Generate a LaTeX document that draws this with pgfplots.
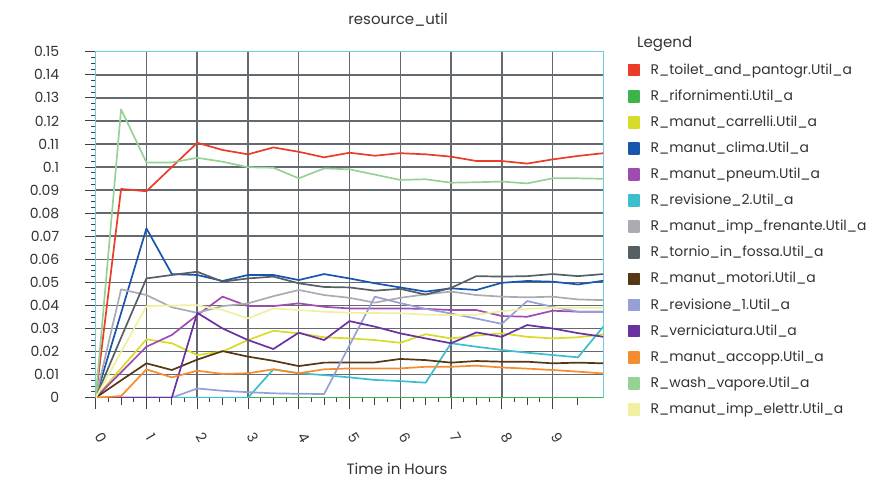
\documentclass[border=0pt]{standalone}
\usepackage{fontspec}
\setmainfont{Poppins}
\usepackage{pgfplots}
\usepackage{pgfplotstable}
\pgfplotsset{compat=1.18}
\definecolor{cred}{RGB}{235,60,40}
\definecolor{crif}{RGB}{60,180,75}
\definecolor{ccarr}{RGB}{215,220,40}
\definecolor{cclima}{RGB}{25,85,175}
\definecolor{cpneum}{RGB}{160,75,175}
\definecolor{crevb}{RGB}{60,190,205}
\definecolor{cfren}{RGB}{170,172,178}
\definecolor{ctornio}{RGB}{85,95,100}
\definecolor{cmotori}{RGB}{85,55,20}
\definecolor{creva}{RGB}{150,160,215}
\definecolor{cvern}{RGB}{105,50,160}
\definecolor{caccopp}{RGB}{245,140,45}
\definecolor{cwash}{RGB}{150,210,150}
\definecolor{celettr}{RGB}{240,240,160}
\definecolor{gridc}{RGB}{100,106,112}
\definecolor{axisc}{RGB}{110,205,220}
\pgfplotstableread{
x red rif carr clima pneum revb fren tornio motori reva vern accopp wash elettr
0 0 0 0 0 0 0 0 0 0 0 0 0 0 0
0.5 0.0905 0 0.0127 0.0367 0.0110 0 0.0470 0.0260 0.0075 0 0 0.0007 0.1250 0.0198
1 0.0895 0 0.0253 0.0734 0.0221 0 0.0445 0.0517 0.0149 0 0 0.0123 0.1020 0.0397
1.5 0.1000 0 0.0236 0.0536 0.0272 0 0.0392 0.0532 0.0120 0 0 0.0088 0.1020 0.0400
2 0.1105 0 0.0185 0.0532 0.0358 0 0.0368 0.0546 0.0165 0.0040 0.0368 0.0117 0.1040 0.0401
2.5 0.1074 0 0.0200 0.0506 0.0438 0 0.0397 0.0503 0.0202 0.0030 0.0300 0.0103 0.1023 0.0380
3 0.1055 0 0.0250 0.0532 0.0397 0 0.0409 0.0517 0.0178 0.0024 0.0250 0.0106 0.0999 0.0344
3.5 0.1085 0 0.0290 0.0532 0.0397 0.0123 0.0440 0.0525 0.0160 0.0019 0.0211 0.0123 0.0997 0.0387
4 0.1066 0 0.0279 0.0510 0.0409 0.0106 0.0467 0.0496 0.0137 0.0017 0.0282 0.0106 0.0951 0.0380
4.5 0.1042 0 0.0262 0.0536 0.0394 0.0098 0.0445 0.0480 0.0152 0.0016 0.0250 0.0123 0.0994 0.0373
5 0.1062 0 0.0257 0.0517 0.0387 0.0088 0.0433 0.0478 0.0153 0.0227 0.0332 0.0127 0.0990 0.0368
5.5 0.1049 0 0.0250 0.0496 0.0387 0.0077 0.0412 0.0464 0.0153 0.0438 0.0308 0.0127 0.0967 0.0367
6 0.1060 0 0.0238 0.0478 0.0387 0.0072 0.0433 0.0472 0.0168 0.0410 0.0279 0.0127 0.0944 0.0366
6.5 0.1055 0 0.0275 0.0460 0.0385 0.0065 0.0448 0.0447 0.0163 0.0385 0.0257 0.0134 0.0947 0.0360
7 0.1045 0 0.0257 0.0474 0.0380 0.0236 0.0460 0.0476 0.0152 0.0365 0.0236 0.0134 0.0932 0.0358
7.5 0.1026 0 0.0269 0.0467 0.0380 0.0221 0.0445 0.0527 0.0159 0.0343 0.0283 0.0139 0.0934 0.0360
8 0.1026 0 0.0279 0.0498 0.0354 0.0207 0.0438 0.0525 0.0156 0.0320 0.0264 0.0131 0.0937 0.0375
8.5 0.1015 0 0.0264 0.0506 0.0351 0.0195 0.0435 0.0527 0.0156 0.0419 0.0315 0.0126 0.0929 0.0385
9 0.1033 0 0.0257 0.0503 0.0377 0.0185 0.0438 0.0536 0.0149 0.0394 0.0300 0.0120 0.0951 0.0390
9.5 0.1048 0 0.0262 0.0491 0.0373 0.0175 0.0426 0.0527 0.0152 0.0373 0.0280 0.0113 0.0951 0.0390
10 0.1060 0 0.0275 0.0507 0.0373 0.0308 0.0423 0.0536 0.0149 0.0373 0.0264 0.0105 0.0949 0.0390
}\data
\begin{document}
\begin{tikzpicture}
\begin{axis}[
  name=ax, scale only axis, width=507.6pt, height=346pt,
  xmin=0, xmax=10, ymin=0, ymax=0.15,
  xtick={0,1,2,3,4,5,6,7,8,9},
  ytick={0,0.01,0.02,0.03,0.04,0.05,0.06,0.07,0.08,0.09,0.1,0.11,0.12,0.13,0.14,0.15},
  minor x tick num=3, minor y tick num=3,
  extra x ticks={0.5,1.5,2.5,3.5,4.5,5.5,6.5,7.5,8.5,9.5},
  extra x tick labels={},
  extra x tick style={grid=none, major tick length=7pt},
  tick align=outside, tick pos=left,
  major tick length=11pt, minor tick length=4.5pt,
  grid=major, major grid style={color=gridc, line width=1.5pt},
  axis line style={color=axisc, line width=1.3pt},
  every tick/.style={color=black!75, line width=0.9pt},
  scaled y ticks=false,
  /pgf/number format/assume math mode=true,
  yticklabel style={/pgf/number format/fixed, /pgf/number format/precision=2,
    font=\fontsize{14}{14}\selectfont, text=black!80, xshift=-22pt},
  xticklabel style={xshift=5pt, yshift=-28.7pt, font=\fontsize{14}{14}\selectfont, text=black!80, anchor=center, rotate=-60},
  title={resource\_util},
  title style={at={(rel axis cs:0.5956,1)}, anchor=center, yshift=26pt, font=\fontsize{15}{15}\selectfont, text=black!80},
  xlabel={Time in Hours},
  xlabel style={at={(rel axis cs:0.5935,0)}, anchor=center, yshift=-71pt, font=\fontsize{15}{15}\selectfont, text=black!80},
  every axis plot/.append style={line width=1.7pt, mark=none, line join=round},
  legend style={at={(rel axis cs:1.0487,0.967)}, anchor=north west, draw=none, fill=none,
    inner sep=0pt, outer sep=0pt, row sep=12.1pt, column sep=11pt,
    font=\fontsize{13.9}{13.9}\selectfont, text=black!80,
    nodes={inner sep=0pt, text height=11pt, text depth=3pt}},
  legend cell align=left,
  legend image code/.code={\fill[#1] (0pt,-5.5pt) rectangle (10pt,5.5pt);},
]
\addplot[color=cred] table[x=x,y=red]{\data};
\addlegendentry{R\_toilet\_and\_pantogr.Util\_a}
\addplot[color=crif] table[x=x,y=rif]{\data};
\addlegendentry{R\_rifornimenti.Util\_a}
\addplot[color=ccarr] table[x=x,y=carr]{\data};
\addlegendentry{R\_manut\_carrelli.Util\_a}
\addplot[color=cclima] table[x=x,y=clima]{\data};
\addlegendentry{R\_manut\_clima.Util\_a}
\addplot[color=cpneum] table[x=x,y=pneum]{\data};
\addlegendentry{R\_manut\_pneum.Util\_a}
\addplot[color=crevb] table[x=x,y=revb]{\data};
\addlegendentry{R\_revisione\_2.Util\_a}
\addplot[color=cfren] table[x=x,y=fren]{\data};
\addlegendentry{R\_manut\_imp\_frenante.Util\_a}
\addplot[color=ctornio] table[x=x,y=tornio]{\data};
\addlegendentry{R\_tornio\_in\_fossa.Util\_a}
\addplot[color=cmotori] table[x=x,y=motori]{\data};
\addlegendentry{R\_manut\_motori.Util\_a}
\addplot[color=creva] table[x=x,y=reva]{\data};
\addlegendentry{R\_revisione\_1.Util\_a}
\addplot[color=cvern] table[x=x,y=vern]{\data};
\addlegendentry{R\_verniciatura.Util\_a}
\addplot[color=caccopp] table[x=x,y=accopp]{\data};
\addlegendentry{R\_manut\_accopp.Util\_a}
\addplot[color=cwash] table[x=x,y=wash]{\data};
\addlegendentry{R\_wash\_vapore.Util\_a}
\addplot[color=celettr] table[x=x,y=elettr]{\data};
\addlegendentry{R\_manut\_imp\_elettr.Util\_a}
\draw[axisc, line width=1.3pt] (rel axis cs:0,0) -- (rel axis cs:0,1) -- (rel axis cs:1,1) -- (rel axis cs:1,0);
\end{axis}
\node[anchor=west, font=\fontsize{15}{15}\selectfont, text=black!80, inner sep=0pt] at ([xshift=541.3pt,yshift=7.7pt]ax.north west) {Legend};
\pgfresetboundingbox
\useasboundingbox ([shift={(-95.7pt,-80.3pt)}]ax.south west) rectangle ([shift={(273.7pt,51.7pt)}]ax.north east);
\end{tikzpicture}
\end{document}
